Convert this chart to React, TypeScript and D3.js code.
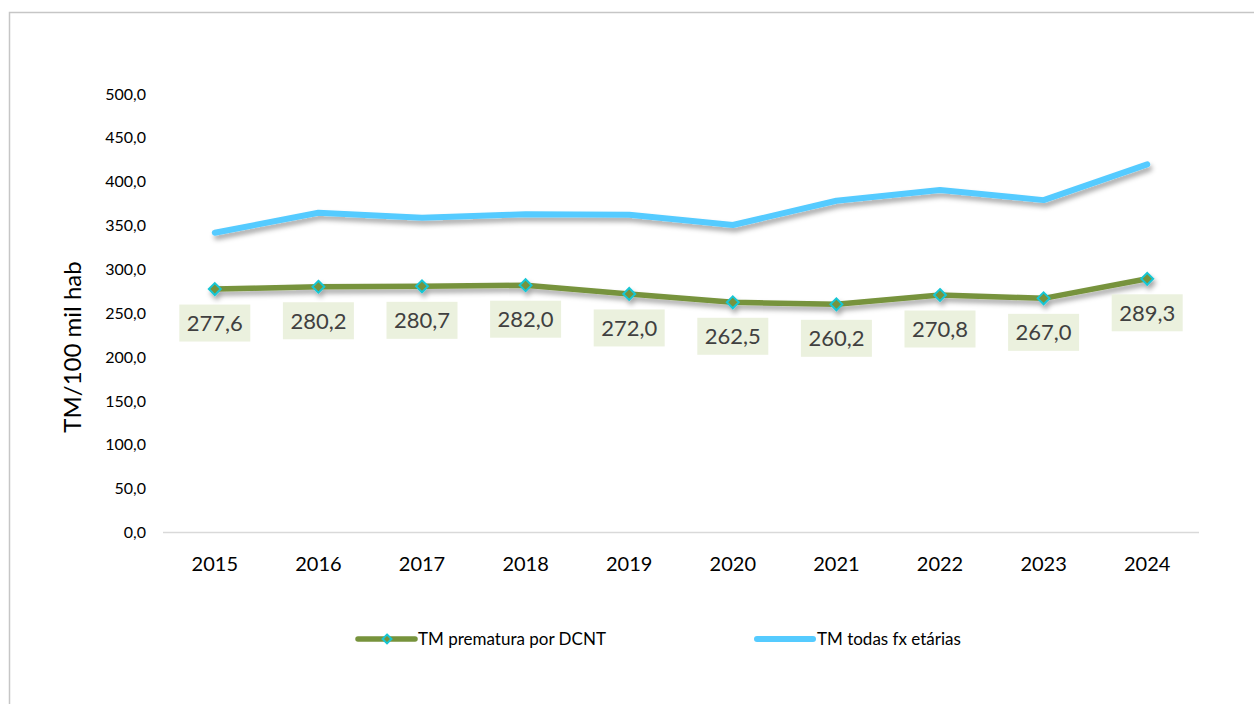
import React, { useEffect, useRef } from 'react';
import * as d3 from 'd3';

const years = ['2015', '2016', '2017', '2018', '2019', '2020', '2021', '2022', '2023', '2024'];
const prematura = [277.6, 280.2, 280.7, 282.0, 272.0, 262.5, 260.2, 270.8, 267.0, 289.3];
const todasFx = [341.8, 364.6, 359.0, 362.8, 362.4, 350.6, 378.3, 390.5, 379.0, 419.8];
const yTicks = [0, 50, 100, 150, 200, 250, 300, 350, 400, 450, 500];
const seriesNames = ['TM prematura por DCNT', 'TM todas fx etárias'];

const GREEN = '#77933c';
const BLUE = '#55cbff';
const CYAN = '#17c6d4';
const FONT = 'Lato, "Open Sans", sans-serif';

const fmt = (v: number) => v.toFixed(1).replace('.', ',');

const App = () => {
  const ref = useRef<SVGSVGElement>(null);

  useEffect(() => {
    if (!ref.current) return;
    const svg = d3.select(ref.current);
    svg.selectAll('*').remove();

    const left = 163, right = 1199, top = 94, bottom = 532.5;

    const x = d3.scaleBand().domain(years).range([left, right]);
    const y = d3.scaleLinear().domain([0, 500]).range([bottom, top]);
    const cx = (d: string) => (x(d) as number) + x.bandwidth() / 2;

    const defs = svg.append('defs');
    defs.append('filter')
      .attr('id', 'shadow')
      .attr('x', '-10%').attr('y', '-50%').attr('width', '120%').attr('height', '200%')
      .append('feDropShadow')
      .attr('dx', 2).attr('dy', 4).attr('stdDeviation', 2.5)
      .attr('flood-color', '#000').attr('flood-opacity', 0.35);

    // outer border
    svg.append('rect')
      .attr('x', 9.5).attr('y', 12.5)
      .attr('width', 1400).attr('height', 900)
      .attr('fill', '#fff').attr('stroke', '#c6c6c6').attr('stroke-width', 1.5);

    // y tick labels
    svg.append('g')
      .selectAll('text')
      .data(yTicks)
      .join('text')
      .attr('x', 146)
      .attr('y', d => y(d))
      .attr('dy', '0.35em')
      .attr('text-anchor', 'end')
      .attr('font-family', FONT)
      .attr('font-size', 16)
      .attr('fill', '#000')
      .text(d => fmt(d));

    // axis title
    svg.append('text')
      .attr('transform', `translate(73,347) rotate(-90)`)
      .attr('text-anchor', 'middle')
      .attr('dy', '0.35em')
      .attr('font-family', FONT)
      .attr('font-size', 24)
      .attr('fill', '#000')
      .text('TM/100 mil hab');

    // x axis line
    svg.append('line')
      .attr('x1', left).attr('x2', right)
      .attr('y1', bottom).attr('y2', bottom)
      .attr('stroke', '#d9d9d9').attr('stroke-width', 1.5);

    // x labels
    svg.append('g')
      .selectAll('text')
      .data(years)
      .join('text')
      .attr('x', d => cx(d))
      .attr('y', 564)
      .attr('dy', '0.35em')
      .attr('text-anchor', 'middle')
      .attr('font-family', FONT)
      .attr('font-size', 20)
      .attr('fill', '#000')
      .text(d => d);

    const line = d3.line<number>()
      .x((_, i) => cx(years[i]))
      .y(d => y(d));

    // blue series
    svg.append('path')
      .datum(todasFx)
      .attr('fill', 'none')
      .attr('stroke', BLUE)
      .attr('stroke-width', 6)
      .attr('stroke-linecap', 'round')
      .attr('stroke-linejoin', 'round')
      .attr('filter', 'url(#shadow)')
      .attr('d', line);

    // green series
    const g = svg.append('g').attr('filter', 'url(#shadow)');
    g.append('path')
      .datum(prematura)
      .attr('fill', 'none')
      .attr('stroke', GREEN)
      .attr('stroke-width', 5.5)
      .attr('stroke-linejoin', 'round')
      .attr('d', line);

    const diamond = d3.symbol().type(d3.symbolDiamond2).size(90);
    g.selectAll('path.mark')
      .data(prematura)
      .join('path')
      .attr('class', 'mark')
      .attr('transform', (d, i) => `translate(${cx(years[i])},${y(d)})`)
      .attr('d', diamond)
      .attr('fill', GREEN)
      .attr('stroke', CYAN)
      .attr('stroke-width', 2);

    // data labels
    const labels = svg.append('g')
      .selectAll('g')
      .data(prematura)
      .join('g')
      .attr('transform', (d, i) => `translate(${cx(years[i])},${y(d) + 34})`);
    labels.append('rect')
      .attr('x', -35.5).attr('y', -18.5)
      .attr('width', 71).attr('height', 37)
      .attr('fill', '#ebf1de');
    labels.append('text')
      .attr('text-anchor', 'middle')
      .attr('dy', '0.36em')
      .attr('font-family', FONT)
      .attr('font-size', 22)
      .attr('fill', '#404040')
      .text(d => fmt(d));

    // legend
    const legY = 639;
    const lg1 = svg.append('g').attr('transform', `translate(358,${legY})`);
    lg1.append('line')
      .attr('x1', 0).attr('x2', 57).attr('y1', 0).attr('y2', 0)
      .attr('stroke', GREEN).attr('stroke-width', 5.5).attr('stroke-linecap', 'round');
    lg1.append('path')
      .attr('transform', 'translate(29,0)')
      .attr('d', d3.symbol().type(d3.symbolDiamond2).size(50)())
      .attr('fill', GREEN).attr('stroke', CYAN).attr('stroke-width', 2);
    lg1.append('text')
      .attr('x', 60).attr('dy', '0.35em')
      .attr('font-family', FONT).attr('font-size', 17).attr('fill', '#000')
      .text(seriesNames[0]);

    const lg2 = svg.append('g').attr('transform', `translate(757,${legY})`);
    lg2.append('line')
      .attr('x1', 0).attr('x2', 56).attr('y1', 0).attr('y2', 0)
      .attr('stroke', BLUE).attr('stroke-width', 6).attr('stroke-linecap', 'round');
    lg2.append('text')
      .attr('x', 60).attr('dy', '0.35em')
      .attr('font-family', FONT).attr('font-size', 17).attr('fill', '#000')
      .text(seriesNames[1]);
  }, []);

  return (
    <svg
      ref={ref}
      width={1254}
      height={704}
      style={{ position: 'absolute', left: 0, top: 0, background: '#fff' }}
    />
  );
};

export default App;
